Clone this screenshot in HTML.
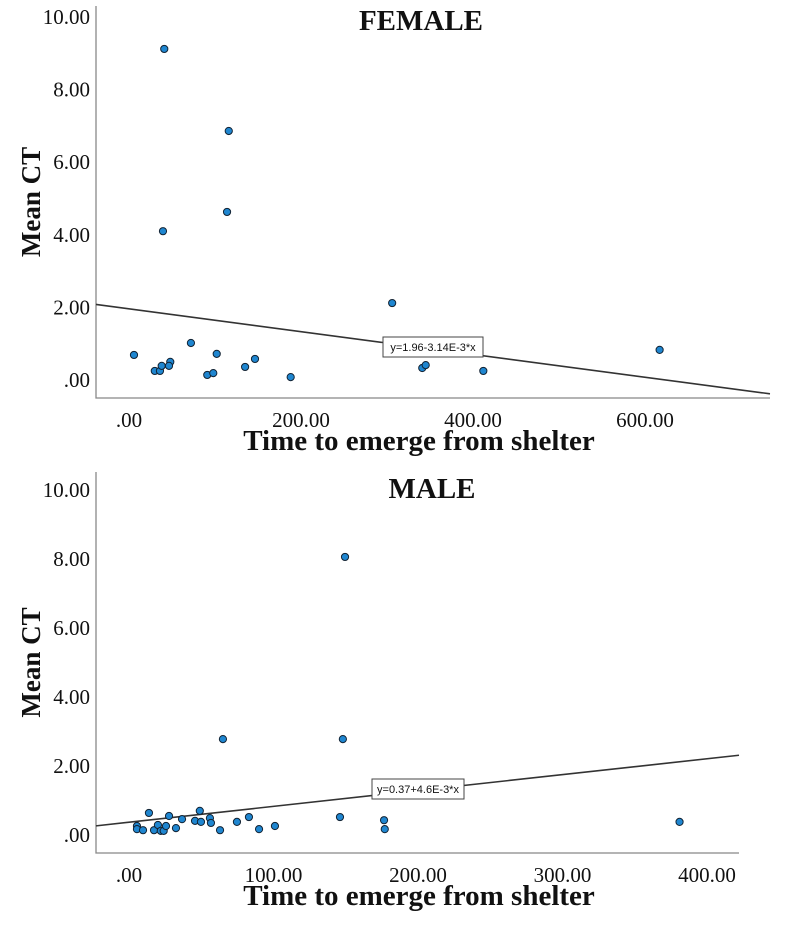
<!DOCTYPE html>
<html><head><meta charset="utf-8"><style>
body{margin:0;background:#fff;width:787px;height:932px;overflow:hidden}
svg{display:block;font-family:"Liberation Serif",serif}
</style></head><body>
<svg id="c" width="787" height="932"></svg>
<script>
const femaleX=[5.8,72,102,30,36,38,48,46.5,91,98,135,146.5,188,341,345,412,41,116,114,39.5,306,617];
const femaleY=[0.69,1.02,0.72,0.25,0.25,0.39,0.50,0.39,0.14,0.19,0.36,0.58,0.08,0.33,0.41,0.25,9.12,6.86,4.63,4.10,2.12,0.83];
const maleX=[5.5,5.5,9.7,13.8,17.3,20,22,24,25.6,27.7,32.5,36.7,45.7,49,49.8,56,56.7,63,65,74.7,83,90,101,149.5,148,146,176.5,177,381];
const maleY=[0.26,0.17,0.14,0.64,0.14,0.29,0.12,0.12,0.26,0.55,0.20,0.46,0.41,0.70,0.38,0.49,0.35,0.14,2.78,0.38,0.52,0.17,0.26,8.06,2.78,0.52,0.43,0.17,0.38];
const femaleXTicks=[0,200,400,600];
const maleXTicks=[0,100,200,300,400];
const yTicks=[0,2,4,6,8,10];
const femaleFit=[1.96,-3.14e-3];
const maleFit=[0.37,4.6e-3];
const NS="http://www.w3.org/2000/svg";
const svg=document.getElementById('c');
function mk(t,a,p){const e=document.createElementNS(NS,t);for(const k in a)e.setAttribute(k,a[k]);(p||svg).appendChild(e);return e;}
function lbl(v){return v===0?'.00':v.toFixed(2);}
function chart(o){
  const g=mk('g',{});
  
  
  const sx=v=>o.x0+v*o.kx, sy=v=>o.y0-v*o.ky;
  const ax=mk('path',{d:`M${o.left} ${o.top}V${o.bottom}H${o.right}`,fill:'none',stroke:'#888','stroke-width':1.3},g);
  
  yTicks.forEach(v=>{const t=mk('text',{x:90,y:sy(v)+7,'text-anchor':'end','font-size':21,fill:'#111'},g);t.textContent=lbl(v);
    });
  o.xt.forEach(v=>{const t=mk('text',{x:sx(v),y:o.bottom+29,'text-anchor':'middle','font-size':21,fill:'#111'},g);t.textContent=lbl(v);
    });
  const xmin=(o.left-o.x0)/o.kx, xmax=(o.right-o.x0)/o.kx;
  const ln=mk('line',{x1:o.left,y1:sy(o.fit[0]+o.fit[1]*xmin),x2:o.right,y2:sy(o.fit[0]+o.fit[1]*xmax),stroke:'#333','stroke-width':1.6},g);
  
  o.xs.forEach((v,i)=>{const c=mk('circle',{cx:sx(v),cy:sy(o.ys[i]),r:3.6,fill:'#1f86d0',stroke:'#123','stroke-width':1},g);
    });
  const b=mk('rect',{x:o.box[0],y:o.box[1],width:o.box[2],height:20,fill:'#fff',stroke:'#444','stroke-width':1},g);
  
  const bt=mk('text',{x:o.box[0]+o.box[2]/2,y:o.box[1]+14,'text-anchor':'middle','font-size':11,'font-family':'Liberation Sans, sans-serif',fill:'#111'},g);
  bt.textContent=o.eq;
  const ti=mk('text',{x:o.tx,y:o.ty,'text-anchor':'middle','font-size':29,'font-weight':'bold',fill:'#111'},g);
  ti.textContent=o.title;
  const xt=mk('text',{x:419,y:o.bottom+52,'text-anchor':'middle','font-size':29,'font-weight':'bold',fill:'#111'},g);
  xt.textContent='Time to emerge from shelter';
  const yc=(o.top+o.bottom)/2;
  const yt=mk('text',{x:0,y:0,transform:`translate(40 ${yc}) rotate(-90)`,'text-anchor':'middle','font-size':27,'font-weight':'bold',fill:'#111'},g);
  yt.textContent='Mean CT';
}
chart({name:'female',xs:femaleX,ys:femaleY,xt:femaleXTicks,fit:femaleFit,x0:129,kx:0.86,y0:380,ky:36.3,
  left:96,right:770,top:6,bottom:398,box:[383,337,100],eq:'y=1.96-3.14E-3*x',title:'FEMALE',tx:421,ty:30});
chart({name:'male',xs:maleX,ys:maleY,xt:maleXTicks,fit:maleFit,x0:129,kx:1.445,y0:835,ky:34.5,
  left:96,right:739,top:472,bottom:853,box:[372,779,92],eq:'y=0.37+4.6E-3*x',title:'MALE',tx:432,ty:498});
</script>
</body></html>
